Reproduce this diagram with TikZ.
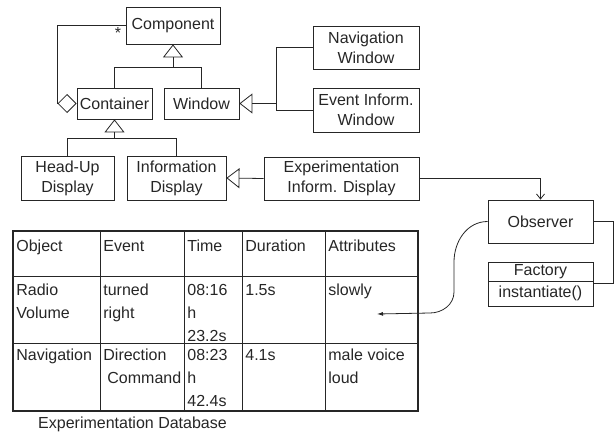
\documentclass[tikz,border=0pt]{standalone}
\usepackage{fontspec}
\setmainfont{Liberation Sans}
\usetikzlibrary{arrows.meta}

\tikzset{
  umlbox/.style={draw,rectangle,inner sep=1pt,align=center},
  gen/.style={-{Triangle[open,length=13pt,width=20pt]}},
  cell/.style={anchor=base west,inner sep=0pt,align=left,font=\fontsize{16}{23}\selectfont},
}

\begin{document}
\begin{tikzpicture}[x=1pt,y=-1pt,line width=0.8pt,color=black!85,font=\fontsize{16}{20}\selectfont]
\useasboundingbox (0,0) rectangle (615,436);

\node[umlbox,minimum width=94pt,minimum height=37pt] (comp) at (173,25.5) {Component};
\node[umlbox,minimum width=75pt,minimum height=31pt] (cont) at (114.5,103.5) {Container};
\node[umlbox,minimum width=75pt,minimum height=31pt] (win) at (201.5,103.5) {Window};
\node[umlbox,minimum width=106pt,minimum height=43pt] (nav) at (366,47.5) {Navigation\\Window};
\node[umlbox,minimum width=106pt,minimum height=44pt] (evt) at (366,110) {Event Inform.\\Window};
\node[umlbox,minimum width=93pt,minimum height=44pt] (hud) at (67.5,178) {Head-Up\\Display};
\node[umlbox,minimum width=99pt,minimum height=44pt] (info) at (176.5,178) {Information\\Display};
\node[umlbox,minimum width=155pt,minimum height=43pt] (exp) at (341.5,178.5) {Experimentation\\Inform. Display};
\node[umlbox,minimum width=105pt,minimum height=43pt] (obs) at (540.5,221.5) {Observer};
\node[umlbox,minimum width=105pt,minimum height=19pt] (facname) at (540.5,271.5) {Factory};
\node[umlbox,minimum width=105pt,minimum height=25pt] (facop) at (540.5,293.5) {instantiate()};
\node[inner sep=0pt] (mult) at (118,33) {*};

\coordinate (cj) at (173,67);
\coordinate (dj) at (114.5,138);
\coordinate (wj) at (276,103.5);
\coordinate (slow) at (377,314);

\draw[gen] (cont.north) |- (cj) -- (comp.south);
\draw (win.north) |- (cj);
\draw[gen] (hud.north) |- (dj) -- (cont.south);
\draw (info.north) |- (dj);
\draw[gen] (nav.west) -| (wj) -- (win.east);
\draw (evt.west) -| (wj);
\draw[gen] (exp.west) -- (info.east);
\draw[{Diamond[open,length=19pt,width=19pt]}-] (cont.west) -- ++(-19,0) |- (comp.west);
\draw[-{Straight Barb[length=5pt,width=8pt]}] (exp.east) -| (obs.north);
\draw (obs.east) -- ++(20,0) |- ([yshift=-3pt]facop.north east);
\draw[-{Latex[length=6pt,width=4pt]}] (obs.west) to[out=180,in=90] (454,262) -- (454,292) to[out=-90,in=0] (430,313) -- (slow);

\draw[line width=1.6pt] (13,231) rectangle (418,411);
\foreach \cx in {100,184,242,325} \draw (\cx,231) -- (\cx,411);
\foreach \ry in {276,343} \draw (13,\ry) -- (418,\ry);

% multi-line cells sit on the baseline of their last line
\foreach \n/\cx/\cy/\t in {h1/16/251/Object, h2/103/251/Event, h3/187/251/Time, h4/245/251/Duration, h5/328/251/Attributes,
  a1/16/318/{Radio\\Volume}, a2/103/318/{turned\\right}, a3/187/341/{08:16\\h\\23.2s}, a4/245/295/1.5s, a5/328/295/slowly,
  b1/16/360/Navigation, b2/103/360/Direction, b3/187/406/{08:23\\h\\42.4s}, b4/245/360/4.1s, b5/328/383/{male voice\\loud}}
  \node[cell] (\n) at (\cx,\cy) {\t};
\node[cell] (b2x) at (107,383) {Command};

\node[anchor=base,inner sep=0pt] (dbname) at (132.5,428) {Experimentation Database};
\end{tikzpicture}
\end{document}
